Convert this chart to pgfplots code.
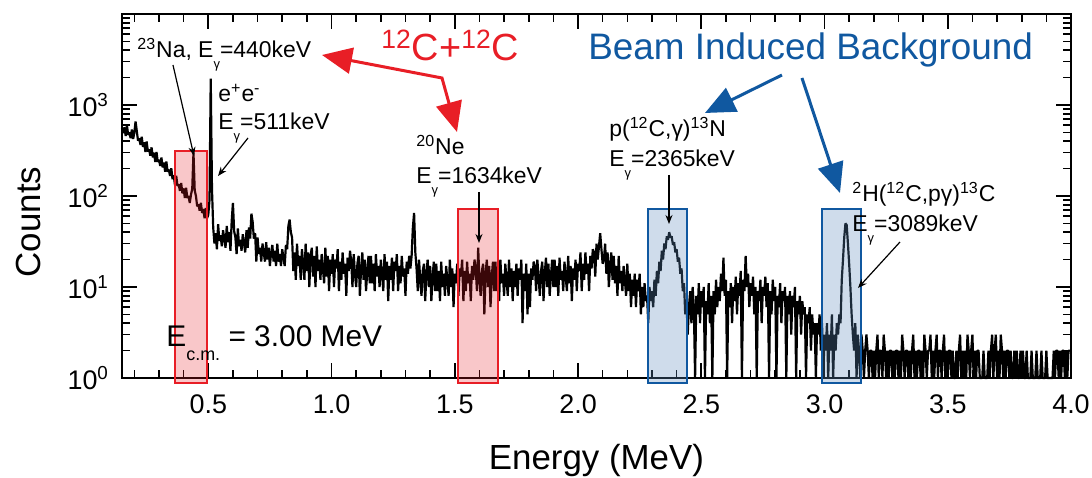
\documentclass[border=0pt]{standalone}
\usepackage{fontspec}
\setmainfont{Liberation Sans}
\usepackage{pgfplots}
\pgfplotsset{compat=1.18}
\usetikzlibrary{arrows.meta}

\definecolor{cred}{RGB}{232,30,38}
\definecolor{cblue}{RGB}{16,88,160}
\definecolor{bfill}{RGB}{95,140,190}
\newcommand{\Eg}{E\raisebox{-5.5bp}{\fontsize{6.5}{7}\selectfont γ}}

\begin{document}
\begin{tikzpicture}
\useasboundingbox (-61bp,-50bp) rectangle (485bp,189bp);
\begin{axis}[at={(0,0)},anchor=south west,scale only axis,width=474.5bp,height=182bp,
 ymode=log,xmin=0.15,xmax=4.0,ymin=1,ymax=1e4,clip=false,
 xtick={0.5,1,1.5,2,2.5,3,3.5,4},xticklabels={0.5,1.0,1.5,2.0,2.5,3.0,3.5,4.0},
 minor xtick={0.2,0.3,0.4,0.6,0.7,0.8,0.9,1.1,1.2,1.3,1.4,1.6,1.7,1.8,1.9,2.1,2.2,2.3,2.4,2.6,2.7,2.8,2.9,3.1,3.2,3.3,3.4,3.6,3.7,3.8,3.9},
 ytick={1,10,100,1000},yticklabels={10\textsuperscript{0},10\textsuperscript{1},10\textsuperscript{2},10\textsuperscript{3}},
 minor ytick={2,3,4,5,6,7,8,9,20,30,40,50,60,70,80,90,200,300,400,500,600,700,800,900,2000,3000,4000,5000,6000,7000,8000,9000},
 tick align=inside,tick pos=both,major tick length=7.5bp,minor tick length=4bp,
 every tick/.style={black,line width=0.8pt},axis line style={line width=1.1pt},
 tick label style={font=\fontsize{13.5}{15}\selectfont},
 xticklabel style={yshift=-5bp},yticklabel style={xshift=-3bp},
 xlabel={Energy (MeV)},ylabel={Counts},label style={font=\fontsize{17.5}{20}\selectfont},
 xlabel style={at={(axis description cs:0.5,0)},anchor=base,yshift=-45.5bp},
 ylabel style={at={(axis description cs:-0.0864,0.4286)},anchor=base}]
\addplot[black,line width=1.1pt,line join=bevel] coordinates {
(0.150,560)(0.155,490)(0.160,567)(0.165,456)(0.170,598)(0.175,469)(0.180,500)(0.185,431)(0.190,538)(0.195,423)
(0.200,494)(0.205,660)(0.210,518)(0.215,405)(0.220,430)(0.225,365)(0.230,448)(0.235,347)(0.240,389)(0.245,305)
(0.250,397)(0.255,308)(0.260,325)(0.265,277)(0.270,342)(0.275,266)(0.280,299)(0.285,237)(0.290,305)(0.295,237)
(0.300,250)(0.305,214)(0.310,264)(0.315,206)(0.320,233)(0.325,185)(0.330,239)(0.335,185)(0.340,195)(0.345,166)
(0.350,202)(0.355,153)(0.360,168)(0.365,131)(0.370,167)(0.375,129)(0.380,134)(0.385,114)(0.390,139)(0.395,107)
(0.400,121)(0.405,95)(0.410,123)(0.415,95)(0.420,100)(0.425,84)(0.430,104)(0.435,120)(0.440,300)(0.445,115)
(0.450,100)(0.455,77)(0.460,81)(0.465,69)(0.470,84)(0.475,65)(0.480,72)(0.485,57)(0.490,74)(0.495,57)
(0.500,62)(0.505,90)(0.510,1950)(0.515,120)(0.520,45)(0.525,30)(0.530,39)(0.535,26)(0.540,49)(0.545,32)
(0.550,37)(0.555,28)(0.560,42)(0.565,34)(0.570,27)(0.575,47)(0.580,31)(0.585,40)(0.590,25)(0.595,53)
(0.600,84)(0.605,41)(0.610,35)(0.615,23)(0.620,44)(0.625,28)(0.630,33)(0.635,25)(0.640,38)(0.645,30)
(0.650,24)(0.655,42)(0.660,27)(0.665,45)(0.670,34)(0.675,64)(0.680,52)(0.685,34)(0.690,39)(0.695,19)
(0.700,35)(0.705,23)(0.710,27)(0.715,19)(0.720,30)(0.725,24)(0.730,19)(0.735,31)(0.740,20)(0.745,27)
(0.750,17)(0.755,24)(0.760,29)(0.765,19)(0.770,25)(0.775,17)(0.780,30)(0.785,19)(0.790,23)(0.795,17)
(0.800,26)(0.805,21)(0.810,17)(0.815,29)(0.820,26)(0.825,47)(0.830,55)(0.835,40)(0.840,35)(0.845,15)
(0.850,24)(0.855,12)(0.860,30)(0.865,17)(0.870,22)(0.875,12)(0.880,26)(0.885,18)(0.890,12)(0.895,30)
(0.900,15)(0.905,24)(0.910,10)(0.915,22)(0.920,27)(0.925,13)(0.930,22)(0.935,10)(0.940,28)(0.945,15)
(0.950,20)(0.955,12)(0.960,23)(0.965,16)(0.970,11)(0.975,27)(0.980,13)(0.985,22)(0.990,9)(0.995,20)
(1.000,14)(1.005,23)(1.010,10)(1.015,20)(1.020,16)(1.025,26)(1.030,9)(1.035,19)(1.040,12)(1.045,24)
(1.050,14)(1.055,18)(1.060,8)(1.065,21)(1.070,15)(1.075,25)(1.080,19)(1.085,10)(1.090,23)(1.095,14)
(1.100,10)(1.105,18)(1.110,22)(1.115,8)(1.120,16)(1.125,24)(1.130,12)(1.135,20)(1.140,9)(1.145,15)
(1.150,22)(1.155,11)(1.160,22)(1.165,11)(1.170,18)(1.175,9)(1.180,23)(1.185,13)(1.190,17)(1.195,10)
(1.200,20)(1.205,14)(1.210,9)(1.215,23)(1.220,12)(1.225,19)(1.230,7)(1.235,17)(1.240,12)(1.245,21)
(1.250,9)(1.255,19)(1.260,15)(1.265,23)(1.270,9)(1.275,17)(1.280,11)(1.285,22)(1.290,13)(1.295,16)
(1.300,8)(1.305,19)(1.310,14)(1.315,22)(1.320,16)(1.325,22)(1.330,45)(1.335,65)(1.340,24)(1.345,16)
(1.350,9)(1.355,20)(1.360,12)(1.365,8)(1.370,15)(1.375,18)(1.380,7)(1.385,14)(1.390,20)(1.395,10)
(1.400,17)(1.405,7)(1.410,13)(1.415,19)(1.420,9)(1.425,18)(1.430,9)(1.435,15)(1.440,7)(1.445,19)
(1.450,10)(1.455,14)(1.460,8)(1.465,17)(1.470,12)(1.475,8)(1.480,20)(1.485,10)(1.490,16)(1.495,6)
(1.500,14)(1.505,11)(1.510,18)(1.515,8)(1.520,16)(1.525,13)(1.530,20)(1.535,7)(1.540,15)(1.545,9)
(1.550,19)(1.555,11)(1.560,14)(1.565,7)(1.570,17)(1.575,12)(1.580,20)(1.585,16)(1.590,9)(1.595,27)
(1.600,12)(1.605,8)(1.610,15)(1.615,18)(1.620,5)(1.625,14)(1.630,20)(1.635,10)(1.640,17)(1.645,6)
(1.650,13)(1.655,19)(1.660,9)(1.665,19)(1.670,9)(1.675,16)(1.680,7)(1.685,20)(1.690,11)(1.695,14)
(1.700,8)(1.705,18)(1.710,12)(1.715,8)(1.720,20)(1.725,10)(1.730,16)(1.735,7)(1.740,15)(1.745,10)
(1.750,18)(1.755,8)(1.760,16)(1.765,12)(1.770,20)(1.775,4)(1.780,14)(1.785,9)(1.790,18)(1.795,5)
(1.800,14)(1.805,6)(1.810,16)(1.815,12)(1.820,19)(1.825,17)(1.830,9)(1.835,20)(1.840,13)(1.845,8)
(1.850,15)(1.855,19)(1.860,7)(1.865,14)(1.870,21)(1.875,10)(1.880,18)(1.885,8)(1.890,13)(1.895,20)
(1.900,10)(1.905,20)(1.910,10)(1.915,17)(1.920,8)(1.925,21)(1.930,12)(1.935,15)(1.940,9)(1.945,19)
(1.950,13)(1.955,9)(1.960,22)(1.965,11)(1.970,17)(1.975,7)(1.980,16)(1.985,12)(1.990,20)(1.995,9)
(2.000,18)(2.005,15)(2.010,24)(2.015,9)(2.020,18)(2.025,12)(2.030,24)(2.035,14)(2.040,18)(2.045,9)
(2.050,22)(2.055,16)(2.060,26)(2.065,24)(2.070,13)(2.075,30)(2.080,20)(2.085,28)(2.090,39)(2.095,26)
(2.100,18)(2.105,20)(2.110,30)(2.115,14)(2.120,24)(2.125,10)(2.130,17)(2.135,24)(2.140,12)(2.145,22)
(2.150,11)(2.155,17)(2.160,8)(2.165,22)(2.170,11)(2.175,15)(2.180,9)(2.185,17)(2.190,12)(2.195,8)
(2.200,18)(2.205,9)(2.210,14)(2.215,6)(2.220,12)(2.225,8)(2.230,14)(2.235,6)(2.240,12)(2.245,9)
(2.250,14)(2.255,5)(2.260,10)(2.265,6)(2.270,11)(2.275,7)(2.280,8)(2.285,4)(2.290,10)(2.295,7)
(2.300,9)(2.305,6)(2.310,12)(2.315,8)(2.320,15)(2.325,11)(2.330,19)(2.335,15)(2.340,25)(2.345,20)
(2.350,30)(2.355,26)(2.360,36)(2.365,33)(2.370,40)(2.375,35)(2.380,36)(2.385,29)(2.390,31)(2.395,24)
(2.400,26)(2.405,19)(2.410,21)(2.415,14)(2.420,16)(2.425,9)(2.430,11)(2.435,5)(2.440,7)(2.445,3)
(2.450,6)(2.455,9)(2.460,4)(2.465,10)(2.470,6)(2.475,1)(2.480,8)(2.485,5)(2.490,11)(2.495,4)
(2.500,9)(2.505,6)(2.510,10)(2.515,1)(2.520,7)(2.525,5)(2.530,11)(2.535,4)(2.540,8)(2.545,1)
(2.550,9)(2.555,5)(2.560,12)(2.565,6)(2.570,10)(2.575,7)(2.580,14)(2.585,9)(2.590,21)(2.595,8)
(2.600,12)(2.605,1)(2.610,9)(2.615,6)(2.620,11)(2.625,4)(2.630,10)(2.635,7)(2.640,13)(2.645,5)
(2.650,11)(2.655,8)(2.660,15)(2.665,1)(2.670,12)(2.675,9)(2.680,22)(2.685,10)(2.690,14)(2.695,6)
(2.700,11)(2.705,8)(2.710,13)(2.715,5)(2.720,10)(2.725,1)(2.730,9)(2.735,7)(2.740,12)(2.745,4)
(2.750,10)(2.755,8)(2.760,13)(2.765,6)(2.770,11)(2.775,1)(2.780,9)(2.785,5)(2.790,12)(2.795,7)
(2.800,10)(2.805,1)(2.810,8)(2.815,6)(2.820,11)(2.825,4)(2.830,9)(2.835,7)(2.840,10)(2.845,1)
(2.850,8)(2.855,5)(2.860,9)(2.865,3)(2.870,8)(2.875,6)(2.880,10)(2.885,1)(2.890,7)(2.895,5)
(2.900,8)(2.905,3)(2.910,7)(2.915,5)(2.920,6)(2.925,1)(2.930,5)(2.935,4)(2.940,6)(2.945,2)
(2.950,5)(2.955,3)(2.960,4)(2.965,1)(2.970,4)(2.975,3)(2.980,5)(2.985,2)(2.990,4)(2.995,1)
(3.000,3)(3.005,2)(3.010,4)(3.015,1)(3.020,3)(3.025,2)(3.030,5)(3.035,1)(3.040,3)(3.045,2)
(3.050,4)(3.055,3)(3.060,5)(3.065,4)(3.070,12)(3.075,20)(3.080,35)(3.085,50)(3.090,48)(3.095,30)
(3.100,18)(3.105,10)(3.110,5)(3.115,3)(3.120,2)(3.125,4)(3.130,1)(3.135,3)(3.140,2)(3.145,1)
(3.150,3)(3.155,2)(3.160,1)(3.165,2)(3.170,3)(3.175,2)(3.180,1)(3.185,2)(3.190,2)(3.195,1)
(3.200,2)(3.205,1)(3.210,2)(3.215,3)(3.220,1)(3.225,2)(3.230,2)(3.235,1)(3.240,3)(3.245,2)
(3.250,1)(3.255,2)(3.260,1)(3.265,2)(3.270,2)(3.275,1)(3.280,2)(3.285,1)(3.290,2)(3.295,2)
(3.300,1)(3.305,2)(3.310,1)(3.315,3)(3.320,2)(3.325,1)(3.330,2)(3.335,2)(3.340,1)(3.345,2)
(3.350,1)(3.355,2)(3.360,3)(3.365,1)(3.370,2)(3.375,1)(3.380,2)(3.385,2)(3.390,1)(3.395,2)
(3.400,1)(3.405,3)(3.410,2)(3.415,1)(3.420,2)(3.425,2)(3.430,3)(3.435,1)(3.440,2)(3.445,1)
(3.450,2)(3.455,3)(3.460,1)(3.465,2)(3.470,2)(3.475,1)(3.480,2)(3.485,3)(3.490,1)(3.495,2)
(3.500,1)(3.505,2)(3.510,2)(3.515,1)(3.520,2)(3.525,1)(3.530,1)(3.535,2)(3.540,1)(3.545,2)
(3.550,3)(3.555,1)(3.560,2)(3.565,1)(3.570,2)(3.575,1)(3.580,3)(3.585,2)(3.590,1)(3.595,2)
(3.600,3)(3.605,1)(3.610,2)(3.615,1)(3.620,2)(3.625,2)(3.630,1)(3.635,1)(3.640,1)(3.645,2)
(3.650,1)(3.655,1)(3.660,1)(3.665,2)(3.670,1)(3.675,2)(3.680,3)(3.685,1)(3.690,2)(3.695,3)
(3.700,1)(3.705,2)(3.710,1)(3.715,3)(3.720,2)(3.725,1)(3.730,2)(3.735,1)(3.740,2)(3.745,2)
(3.750,1)(3.755,2)(3.760,1)(3.765,1)(3.770,2)(3.775,1)(3.780,2)(3.785,1)(3.790,1)(3.795,2)
(3.800,1)(3.805,2)(3.810,1)(3.815,1)(3.820,2)(3.825,1)(3.830,1)(3.835,1)(3.840,2)(3.845,1)
(3.850,1)(3.855,1)(3.860,2)(3.865,1)(3.870,1)(3.875,1)(3.880,2)(3.885,1)(3.890,1)(3.895,1)
(3.900,2)(3.905,1)(3.910,1)(3.915,1)(3.920,1)(3.925,1)(3.930,2)(3.935,1)(3.940,2)(3.945,2)
(3.950,1)(3.955,2)(3.960,1)(3.965,2)(3.970,2)(3.975,1)(3.980,2)(3.985,1)(3.990,2)(3.995,2)
(4.000,2)};
% highlighted regions
\draw[cred,line width=1pt,fill=cred,fill opacity=0.25] (axis cs:0.365,0.881) rectangle (axis cs:0.495,312);
\draw[cred,line width=1pt,fill=cred,fill opacity=0.25] (axis cs:1.513,0.881) rectangle (axis cs:1.675,72);
\draw[cblue,line width=1pt,fill=bfill,fill opacity=0.3] (axis cs:2.284,0.881) rectangle (axis cs:2.442,72);
\draw[cblue,line width=1pt,fill=bfill,fill opacity=0.3] (axis cs:2.990,0.881) rectangle (axis cs:3.148,72);
\end{axis}

% annotations, in reference pixel units
\begin{scope}[x=0.5bp,y=-0.5bp,shift={(-61bp,189bp)}]
\begin{scope}[every node/.style={inner sep=0pt,anchor=base west,font=\fontsize{11.5}{13}\selectfont}]
\node at (137,58) {\textsuperscript{23}Na, \Eg=440keV};
\node at (218,102) {e\textsuperscript{+}e\textsuperscript{-}};
\node at (218,130) {\Eg=511keV};
\node at (416,155) {\textsuperscript{20}Ne};
\node at (416,184) {\Eg=1634keV};
\node at (609,137) {p(\textsuperscript{12}C,γ)\textsuperscript{13}N};
\node at (609,167) {\Eg=2365keV};
\node at (852,202) {\textsuperscript{2}H(\textsuperscript{12}C,pγ)\textsuperscript{13}C};
\node at (852,232) {\Eg=3089keV};
\end{scope}
\node[inner sep=0pt,anchor=base west,font=\fontsize{15}{17}\selectfont] at (166,347)
 {E\raisebox{-7bp}{\fontsize{9}{10}\selectfont c.m.} = 3.00 MeV};
\node[inner sep=0pt,anchor=base west,text=cred,font=\fontsize{19}{21}\selectfont] at (381,61)
 {\textsuperscript{12}C+\textsuperscript{12}C};
\node[inner sep=0pt,anchor=base west,text=cblue,font=\fontsize{18.5}{21}\selectfont] at (588,60)
 {Beam Induced Background};
% pointer arrows
\begin{scope}[black,line width=0.6bp,-{Stealth[length=4.5bp,width=3.5bp]}]
\draw (173,65) -- (194,156);
\draw (248,138) -- (218,176);
\draw (479,192) -- (479,243);
\draw (669,175) -- (669,224);
\draw (900,242) -- (858,288);
\end{scope}
\draw[cred,line width=1.5bp,{Triangle[length=15bp,width=13bp]}-{Triangle[length=15bp,width=13bp]}]
 (322,55) -- (442,78) -- (457,132);
\draw[cblue,line width=1.5bp,-{Triangle[length=15bp,width=13bp]}] (782,75) -- (705,113);
\draw[cblue,line width=1.5bp,-{Triangle[length=15bp,width=13bp]}] (802,78) -- (840,193);
\end{scope}
\end{tikzpicture}
\end{document}
